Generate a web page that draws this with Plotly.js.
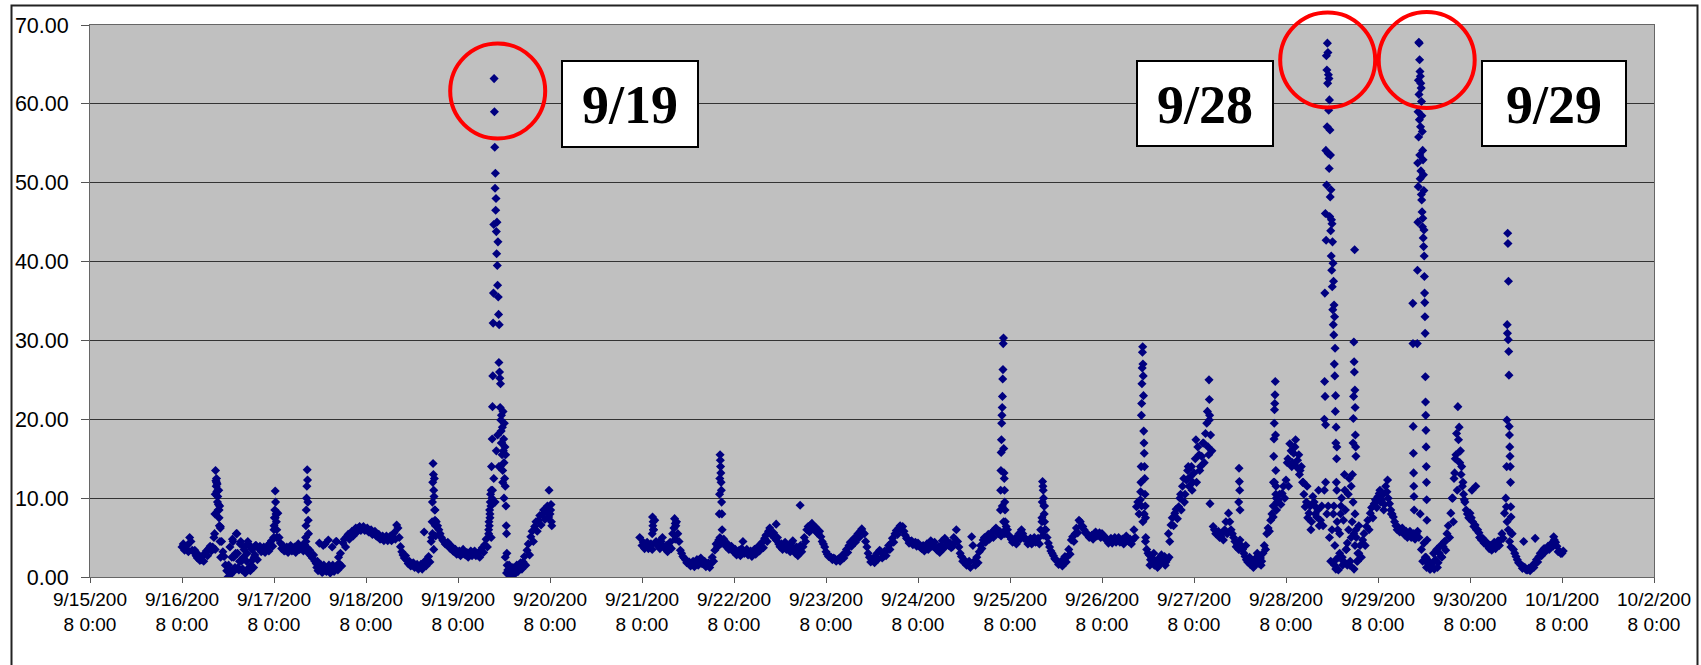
<!DOCTYPE html>
<html>
<head>
<meta charset="utf-8">
<script src="https://cdn.plot.ly/plotly-3.0.1.min.js"></script>
<style>
html,body{margin:0;padding:0;background:#fff;}
#chart{width:1701px;height:665px;}
</style>
</head>
<body>
<div id="chart"></div>
<script>
// ---------------- DATA (readings) ----------------
// Hourly readings (at :00), one array per day
const d0916 = [3.8, 3.6, 5.0, 3.2, 2.4, 2.2, 3.0, 3.6, 3.8, 12.0, 6.4, 2.6, 0.0, 2.5, 3.0, 2.0, 2.5, 3.0, 1.5, 2.8, 3.6, 3.4, 3.6, 4.3];
const d0917 = [6.0, 8.1, 3.6, 3.4, 3.6, 3.4, 3.85, 3.6, 4.1, 3.0, 2.4, 1.7, 0.9, 1.5, 0.8, 1.0, 1.3, 1.7, 4.3, 5.1, 5.5, 6.0, 6.2, 6.2];
const d0918 = [6.0, 5.7, 5.5, 5.1, 4.9, 4.9, 4.9, 5.1, 6.6, 3.85, 2.4, 1.7, 1.5, 1.3, 1.3, 1.7, 2.2, 4.5, 8.5, 6.0, 4.7, 4.1, 3.6, 3.2];
const d0919 = [3.0, 3.2, 2.8, 3.0, 3.0, 2.8, 3.4, 4.1, 6.0, 11.0, 16.0, 14.0, 10.0, 0.9, 0.7, 1.1, 1.3, 1.9, 3.4, 5.1, 6.4, 7.2, 7.9, 8.3];
const d0920 = [8.0];
const d0921 = [4.0, 4.0, 3.85, 6.0, 4.0, 4.5, 3.6, 4.0, 5.5, 7.0, 3.4, 2.4, 1.9, 1.7, 1.9, 2.2, 1.7, 1.5, 1.7, 3.4, 4.7, 4.5, 3.85, 3.6];
const d0922 = [3.2, 3.0, 3.6, 3.2, 3.0, 3.2, 3.6, 4.0, 4.9, 5.8, 5.3, 4.7, 3.85, 4.0, 3.6, 4.3, 3.0, 3.6, 3.85, 6.0, 6.6, 6.0, 5.5, 4.5];
const d0923 = [3.2, 2.6, 2.4, 2.2, 2.4, 3.0, 4.0, 4.5, 5.1, 5.8, 5.5, 3.0, 2.2, 2.4, 3.4, 2.6, 3.4, 4.3, 5.5, 6.2, 6.4, 4.9, 4.5, 4.3];
const d0924 = [4.3, 3.6, 3.85, 4.3, 4.0, 3.4, 4.0, 4.9, 4.0, 3.85, 6.0, 3.0, 2.2, 1.7, 5.1, 1.5, 3.2, 4.7, 5.1, 5.3, 6.0, 5.5, 9.0, 6.4];
const d0925 = [5.1, 4.5, 4.9, 6.0, 4.9, 4.5, 4.7, 4.5, 6.0, 9.0, 4.3, 3.0, 2.2, 1.7, 2.2, 2.6, 4.7, 5.5, 7.2, 6.4, 5.5, 5.1, 5.5, 5.3];
const d0926 = [5.5, 4.9, 4.5, 4.7, 4.7, 4.5, 4.9, 4.5, 4.7, 8.9, 9.8, 8.0, 3.0, 2.4, 1.7, 2.4, 2.2, 2.2, 6.6, 8.1, 8.9, 11.5, 12.3, 12.7];
const d0927 = [13.2, 16.5, 15.3, 18.2, 19.9, 6.4, 5.5, 5.1, 6.0, 8.1, 5.5, 3.85, 4.7, 3.0, 1.9, 1.7, 2.2, 1.7, 3.0, 5.5, 7.2, 12.0, 9.8, 10.6];
const d0928 = [12.3, 16.9, 15.7, 14.8, 14.0, 8.9, 8.1, 10.2, 7.6, 7.2, 11.0, 9.0, 6.0, 2.2, 5.5, 7.2, 4.3, 11.5, 8.0, 3.0, 4.7, 6.4, 8.1, 9.3];
const d0929 = [10.2, 9.8, 11.5, 9.3, 7.6, 6.0, 6.0, 5.3, 5.5, 5.1, 5.5, 8.0, 4.3, 1.7, 1.3, 2.2, 3.0, 3.85, 5.5, 8.1, 13.2, 17.4, 11.5, 8.5];
const d0930 = [8.1, 6.4, 6.0, 4.7, 4.3, 3.6, 3.85, 4.3, 4.7, 8.1, 6.0, 5.5, 2.6, 1.7, 1.3, 0.9, 1.1, 1.7, 2.6, 3.4, 3.6, 3.85, 4.7, 3.2];
const d1001 = [3.0];

// Readings at :20 (upper edge of the band) and :40 (lower edge), per day
const hi0916 = [4.2, 4.0, 4.5, 3.4, 2.8, 2.6, 3.3, 3.9, 5.0, 11.0, 4.5, 1.5, 1.0, 4.5, 5.5, 4.5, 3.8, 4.2, 3.5, 4.0, 3.9, 3.8, 4.0, 4.6];
const lo0916 = [3.4, 3.2, 3.4, 2.7, 2.1, 2.0, 2.7, 3.3, 3.5, 8.5, 3.2, 0.8, 0.3, 0.8, 1.2, 0.9, 0.7, 1.0, 1.2, 2.2, 3.2, 3.1, 3.3, 3.9];
const hi0917 = [7.5, 5.0, 4.0, 3.8, 4.0, 3.8, 4.2, 4.0, 4.5, 3.4, 2.8, 2.0, 1.5, 4.2, 1.5, 1.5, 4.5, 3.0, 4.8, 5.4, 5.8, 6.2, 6.4, 6.4];
const lo0917 = [5.0, 4.3, 3.3, 3.1, 3.3, 3.1, 3.5, 3.3, 3.7, 2.7, 2.0, 1.3, 0.6, 0.7, 0.5, 0.7, 0.9, 1.4, 3.8, 4.8, 5.2, 5.7, 5.9, 5.9];
const hi0918 = [6.2, 6.0, 5.8, 5.4, 5.2, 5.2, 5.2, 5.6, 6.2, 3.2, 2.7, 2.0, 1.8, 1.6, 1.6, 2.0, 2.6, 5.5, 7.0, 5.5, 4.5, 4.4, 3.9, 3.5];
const lo0918 = [5.7, 5.4, 5.2, 4.8, 4.6, 4.6, 4.6, 4.8, 5.0, 2.8, 2.1, 1.4, 1.2, 1.0, 1.0, 1.4, 1.9, 3.5, 6.5, 5.0, 4.2, 3.8, 3.3, 2.9];
const hi0919 = [3.3, 3.5, 3.1, 3.3, 3.3, 3.1, 3.7, 4.8, 7.5, 12.5, 18.0, 17.0, 2.5, 1.5, 1.2, 1.5, 1.8, 2.6, 4.2, 5.8, 7.0, 7.8, 8.5, 9.0];
const lo0919 = [2.7, 2.9, 2.5, 2.7, 2.7, 2.5, 3.1, 3.8, 5.0, 9.5, 14.0, 12.0, 0.5, 0.3, 0.3, 0.7, 1.0, 1.5, 2.8, 4.5, 5.8, 6.6, 7.3, 7.6];
const hi0921 = [4.4, 4.4, 4.2, 7.2, 4.4, 5.0, 4.0, 4.4, 6.2, 5.5, 3.0, 2.2, 1.9, 2.0, 2.2, 2.4, 2.0, 1.8, 2.5, 4.2, 5.0, 4.8, 4.2, 3.9];
const lo0921 = [3.6, 3.6, 3.5, 4.5, 3.6, 3.8, 3.2, 3.6, 4.8, 4.5, 2.6, 1.8, 1.4, 1.3, 1.5, 1.7, 1.3, 1.2, 2.0, 3.8, 4.3, 4.1, 3.5, 3.3];
const hi0922 = [3.5, 3.4, 4.5, 3.5, 3.3, 3.5, 3.9, 4.4, 5.3, 6.2, 5.6, 5.0, 4.2, 4.4, 4.0, 4.6, 3.8, 4.0, 5.0, 6.4, 6.8, 6.3, 5.8, 4.2];
const lo0922 = [2.8, 2.7, 3.0, 2.8, 2.6, 2.9, 3.3, 3.7, 4.5, 5.4, 4.9, 4.2, 3.5, 3.5, 3.2, 3.6, 2.7, 3.2, 4.5, 5.7, 6.2, 5.6, 5.1, 3.8];
const hi0923 = [2.9, 2.5, 2.3, 2.3, 2.8, 3.5, 4.4, 4.9, 5.5, 6.1, 4.5, 2.5, 2.4, 3.0, 3.2, 3.3, 4.0, 4.9, 5.9, 6.5, 5.8, 4.8, 4.6, 4.4];
const lo0923 = [2.6, 2.2, 2.0, 2.0, 2.4, 3.1, 3.9, 4.4, 5.0, 5.6, 3.8, 1.9, 1.8, 2.3, 2.4, 2.7, 3.5, 4.4, 5.4, 6.0, 5.3, 4.3, 4.1, 3.9];
const hi0924 = [4.0, 4.0, 4.2, 4.6, 4.4, 3.8, 4.6, 4.6, 4.3, 5.0, 4.5, 2.6, 2.0, 2.0, 4.0, 2.5, 4.0, 5.0, 5.4, 5.7, 6.2, 5.8, 7.0, 6.0];
const lo0924 = [3.7, 3.3, 3.5, 3.9, 3.6, 3.1, 3.6, 4.2, 3.7, 4.4, 3.8, 2.0, 1.5, 1.2, 2.0, 1.8, 3.6, 4.4, 4.8, 5.0, 5.6, 5.2, 5.5, 5.3];
const hi0925 = [4.8, 4.9, 5.5, 5.5, 4.7, 4.9, 5.0, 4.9, 7.0, 6.0, 3.8, 2.7, 2.0, 2.0, 2.6, 3.5, 5.1, 6.2, 7.0, 6.0, 5.4, 5.3, 5.7, 5.6];
const lo0925 = [4.4, 4.2, 4.8, 4.9, 4.2, 4.2, 4.4, 4.2, 5.3, 5.0, 3.3, 2.3, 1.6, 1.4, 1.9, 2.9, 4.5, 5.6, 6.5, 5.6, 5.0, 4.8, 5.2, 5.0];
const hi0926 = [5.3, 4.8, 4.9, 5.0, 5.0, 4.8, 5.2, 4.8, 6.0, 9.5, 9.0, 4.5, 2.8, 2.3, 2.0, 2.6, 2.6, 5.5, 7.5, 8.6, 10.0, 12.5, 13.5, 14.0];
const lo0926 = [4.9, 4.3, 4.3, 4.4, 4.4, 4.2, 4.6, 4.2, 5.0, 8.0, 7.0, 3.5, 2.2, 1.5, 1.4, 1.9, 1.9, 4.5, 6.5, 7.4, 8.5, 10.5, 11.5, 12.0];
const hi0927 = [15.0, 15.5, 17.0, 19.5, 18.0, 6.0, 5.8, 5.5, 7.0, 7.0, 5.0, 4.2, 4.0, 2.6, 2.2, 2.0, 2.5, 2.4, 4.0, 6.2, 8.0, 10.5, 10.5, 11.5];
const lo0927 = [12.0, 14.0, 14.5, 16.5, 16.0, 5.5, 5.0, 4.7, 5.5, 6.0, 4.5, 3.5, 3.5, 2.2, 1.6, 1.4, 1.8, 2.0, 3.5, 5.8, 7.6, 9.5, 9.2, 10.0];
const hi0928 = [14.5, 16.0, 16.5, 15.5, 12.0, 9.5, 9.0, 9.5, 8.5, 9.0, 12.0, 5.0, 8.0, 7.0, 9.0, 11.0, 6.0, 13.0, 5.0, 4.0, 5.5, 7.2, 8.8, 9.8];
const lo0928 = [11.5, 14.5, 14.0, 13.5, 10.5, 7.5, 7.0, 8.0, 6.5, 6.5, 8.0, 2.0, 1.5, 0.9, 2.5, 3.5, 1.5, 5.5, 2.0, 2.5, 4.0, 6.0, 7.5, 8.8];
const hi0929 = [10.6, 10.5, 10.8, 8.5, 7.0, 6.3, 6.2, 5.8, 5.8, 5.5, 5.8, 3.5, 2.5, 2.0, 1.8, 3.5, 4.0, 4.5, 6.5, 10.0, 15.5, 14.5, 10.5, 8.0];
const lo0929 = [9.5, 9.2, 10.0, 8.0, 6.5, 5.7, 5.6, 5.0, 5.0, 4.8, 5.0, 2.0, 1.2, 1.0, 1.0, 1.8, 2.5, 3.4, 5.0, 7.0, 11.0, 13.0, 9.5, 7.5];
const hi0930 = [7.5, 6.6, 5.6, 4.9, 4.4, 4.0, 4.4, 4.6, 5.5, 10.0, 4.5, 3.5, 2.2, 1.5, 1.2, 1.1, 1.5, 2.2, 3.0, 3.6, 3.9, 4.3, 4.4, 3.3];
const lo0930 = [7.0, 6.0, 5.0, 4.3, 3.9, 3.4, 3.6, 4.0, 4.9, 7.0, 3.8, 3.0, 1.8, 1.1, 0.9, 0.8, 1.2, 1.9, 2.7, 3.2, 3.5, 3.9, 3.9, 3.0];

const dayStarts = ['2008-09-16','2008-09-17','2008-09-18','2008-09-19','2008-09-20',
  '2008-09-21','2008-09-22','2008-09-23','2008-09-24','2008-09-25','2008-09-26',
  '2008-09-27','2008-09-28','2008-09-29','2008-09-30','2008-10-01'];
const dayValues = [d0916,d0917,d0918,d0919,d0920,d0921,d0922,d0923,d0924,d0925,d0926,d0927,d0928,d0929,d0930,d1001];
const hiValues  = [hi0916,hi0917,hi0918,hi0919,[],hi0921,hi0922,hi0923,hi0924,hi0925,hi0926,hi0927,hi0928,hi0929,hi0930,[]];
const loValues  = [lo0916,lo0917,lo0918,lo0919,[],lo0921,lo0922,lo0923,lo0924,lo0925,lo0926,lo0927,lo0928,lo0929,lo0930,[]];

// Extra short-interval readings around spikes and noisy periods
const spike0916  = [5.5, 8.0, 10.5, 13.5, 12.2, 11.5, 12.5, 10.8, 11.8, 9.5, 10.2, 8.5, 9.2, 11.0, 7.5, 6.5, 9.0, 4.5, 6.2, 2.5];
const noise0916  = [1.5, 3.8, 0.6, 4.8, 2.5, 1.2, 5.5, 3.0, 0.9, 4.2, 2.0, 1.0, 3.5, 0.5, 2.0, 4.5, 1.2, 0.8, 3.6, 2.2, 2.5, 4.0];
const spike0917a = [5.0, 6.5, 7.5, 8.5, 10.9, 9.5, 8.0, 7.0, 6.0, 5.0];
const spike0917b = [5.0, 6.5, 8.5, 10.0, 11.5, 13.6, 12.3, 9.5, 7.2, 5.5];
const noise0917  = [1.2, 0.8, 4.3, 1.2, 0.6, 4.0, 1.0, 0.9, 1.0, 4.7, 0.8, 0.8, 3.8, 1.2, 1.0, 4.5, 1.5, 2.5];
const spike0918  = [5.0, 7.0, 9.5, 12.0, 14.4, 13.0, 11.0, 10.2, 12.5, 8.5, 7.2, 6.5, 5.2];
const spike0919  = [5.5, 7.0, 6.5, 8.5, 8.0, 9.5, 10.5, 9.0, 11.0, 14.0, 10.0, 17.5, 21.6, 25.5, 32.2, 36.0,
  44.7, 63.2, 59.0, 54.5, 49.3, 51.2, 46.5, 48.0, 43.8, 41.0, 45.0, 39.5, 37.0, 42.5, 35.5, 33.3, 27.2, 32.0,
  26.0, 25.2, 21.5, 24.5, 19.9, 18.5, 20.5, 17.0, 15.5, 19.0, 13.5, 21.0, 16.0, 17.5, 14.5, 19.5, 12.5, 16.5,
  11.5, 15.5, 9.0, 6.5, 5.5, 3.0, 1.5, 0.5];
const tail0920   = [8.5, 9.2, 7.0, 6.5];
const spike0921a = [5.5, 7.6, 6.5, 7.0, 6.0];
const spike0921b = [7.4, 6.8, 6.5];
const spike0921c = [8.0, 10.5, 12.5, 15.5, 14.8, 14.0, 13.2, 12.0, 11.0, 9.5, 8.0, 6.0];
const spike0924  = [8.5, 11.0, 13.5, 15.8, 17.4, 19.5, 20.5, 21.5, 22.9, 25.1, 26.3, 29.6, 30.3, 16.3, 13.2, 12.5, 11.0, 9.5, 8.5, 7.0, 6.0];
const spike0925  = [7.5, 9.5, 12.1, 11.5, 11.0, 10.0, 9.0, 8.0, 7.0, 6.0];
const spike0926  = [10.8, 12.0, 14.0, 20.5, 22.0, 24.5, 26.5, 28.5, 29.2, 27.0, 25.5, 23.0, 18.5, 17.0, 15.7, 14.0, 12.5, 10.5, 9.0, 7.5, 5.0];
const noise0926a = [1.5, 3.0, 1.2, 2.8, 1.5, 2.5];
const noise0926b = [10.5, 9.5, 14.0, 11.0, 17.4, 13.5, 17.0, 21.0];
const spike0927a = [15.5, 25.0, 22.5, 20.5, 9.3];
const spike0927b = [9.5, 13.8, 12.1, 11.0, 8.5];
const noise0927  = [4.0, 2.5, 1.2, 3.0, 1.5];
const spike0927c = [9.0, 12.0, 15.3, 17.5, 19.5, 21.2, 22.0, 23.1, 24.8, 18.0, 13.5, 11.5, 10.0, 8.5];
const noise0928a = [15.0, 14.0, 17.4, 13.0, 12.0, 11.5, 6.0, 9.0, 11.0];
const spike0928  = [20.0, 24.8, 36.0, 22.9, 46.1, 19.3, 54.1, 42.7, 66.1, 49.7, 64.3, 57.1, 67.7, 62.6, 66.5, 53.7,
  63.7, 59.2, 63.2, 51.8, 60.5, 45.7, 56.7, 48.2, 53.5, 43.9, 49.1, 40.7, 45.3, 38.9, 44.8, 36.8, 42.5, 33.9,
  39.8, 32.0, 37.5, 30.7, 34.5, 27.0, 33.0, 25.5, 29.0, 21.0, 23.0, 17.0, 19.0, 12.0, 15.0, 16.5];
const noise0928b = [9.0, 1.0, 6.0, 3.0, 10.0, 2.0, 8.5, 1.5, 12.5, 5.0, 9.5, 4.0, 2.0, 6.5];
const noise0928c = [4.0, 11.0, 2.5, 8.0, 1.5, 13.0, 3.5, 10.5, 2.0, 7.0, 1.0, 6.0, 3.0];
const spike0928b = [17.0, 20.1, 22.9, 29.8, 27.3, 26.0, 41.5, 23.7, 21.5, 18.0, 16.5, 15.3];
const noise0929a = [11.0, 8.5, 12.3, 8.0];
const spike0929a = [34.7, 29.6, 19.1, 15.7, 13.2, 11.5, 10.2, 8.5];
const spike0929b = [29.6, 38.9, 52.5, 45.0, 59.0, 49.5, 63.0, 55.8, 67.8, 61.2, 67.7, 58.0, 65.6, 53.5, 64.1, 50.5,
  63.5, 57.1, 62.6, 51.5, 62.0, 48.5, 60.3, 47.8, 58.5, 46.3, 56.5, 44.4, 54.1, 45.5, 52.9, 43.0, 51.0, 41.9,
  49.0, 44.0, 40.7, 38.1, 36.0, 34.8, 33.0, 30.9, 25.4, 22.2, 20.5, 18.6, 16.5, 14.0, 12.0, 9.8, 7.2, 4.7];
const noise0929b = [2.5, 1.0, 3.0, 1.2, 2.6, 4.5];
const noise0929c = [10.0, 12.5, 15.0, 18.2, 21.6, 19.0, 16.0, 14.0, 12.0, 9.8];
const noise0930a = [11.0, 11.5, 5.0];
const spike0930  = [8.9, 14.0, 19.9, 32.0, 30.9, 43.6, 42.3, 30.1, 37.5, 28.6, 25.6, 19.1, 18.0, 16.5, 15.3, 14.0, 12.0, 8.9, 7.6, 5.5];

// start time and reading interval (minutes) of each extra block
const extraBlocks = [
  ['2008-09-16 08:30', 5, spike0916], ['2008-09-16 12:10', 20, noise0916],
  ['2008-09-16 23:55', 6, spike0917a], ['2008-09-17 08:15', 5, spike0917b],
  ['2008-09-17 11:10', 20, noise0917], ['2008-09-18 17:10', 5, spike0918],
  ['2008-09-19 08:00', 5, spike0919], ['2008-09-20 00:10', 6, tail0920],
  ['2008-09-21 02:40', 5, spike0921a], ['2008-09-21 08:30', 10, spike0921b],
  ['2008-09-21 20:10', 4, spike0921c], ['2008-09-24 21:30', 4, spike0924],
  ['2008-09-25 08:20', 5, spike0925], ['2008-09-26 10:05', 4, spike0926],
  ['2008-09-26 12:30', 60, noise0926a], ['2008-09-26 20:30', 60, noise0926b],
  ['2008-09-27 03:50', 5, spike0927a], ['2008-09-27 11:40', 5, spike0927b],
  ['2008-09-27 13:30', 60, noise0927], ['2008-09-27 20:40', 4, spike0927c],
  ['2008-09-28 00:30', 60, noise0928a], ['2008-09-28 10:00', 4, spike0928],
  ['2008-09-28 12:30', 30, noise0928b], ['2008-09-28 12:45', 30, noise0928c],
  ['2008-09-28 17:30', 4, spike0928b],
  ['2008-09-29 00:30', 60, noise0929a], ['2008-09-29 09:05', 3, spike0929a],
  ['2008-09-29 10:15', 3, spike0929b], ['2008-09-29 12:30', 60, noise0929b],
  ['2008-09-29 19:30', 20, noise0929c], ['2008-09-30 00:30', 60, noise0930a],
  ['2008-09-30 09:30', 4, spike0930]
];
// single isolated readings
const isoTimes  = ['2008-09-20 23:25', '2008-09-22 11:00', '2008-09-22 17:15', '2008-09-19 23:45', '2008-09-18 15:10', '2008-09-30 14:00', '2008-09-30 17:00', '2008-09-30 21:50', '2008-10-01 00:20'];
const isoValues = [5.0, 6.7, 9.1, 11.0, 5.7, 4.5, 4.9, 5.1, 3.3];

// axis ticks
const tickDates = ['2008-09-15','2008-09-16','2008-09-17','2008-09-18','2008-09-19','2008-09-20',
  '2008-09-21','2008-09-22','2008-09-23','2008-09-24','2008-09-25','2008-09-26','2008-09-27',
  '2008-09-28','2008-09-29','2008-09-30','2008-10-01','2008-10-02'];
const tickLabels = ['9/15/200<br>8 0:00','9/16/200<br>8 0:00','9/17/200<br>8 0:00','9/18/200<br>8 0:00',
  '9/19/200<br>8 0:00','9/20/200<br>8 0:00','9/21/200<br>8 0:00','9/22/200<br>8 0:00','9/23/200<br>8 0:00',
  '9/24/200<br>8 0:00','9/25/200<br>8 0:00','9/26/200<br>8 0:00','9/27/200<br>8 0:00','9/28/200<br>8 0:00',
  '9/29/200<br>8 0:00','9/30/200<br>8 0:00','10/1/200<br>8 0:00','10/2/200<br>8 0:00'];
const markLabels = ['9/19', '9/28', '9/29'];

// ---------------- BUILD ----------------
function toMs(s){ return Date.parse(s.replace(' ', 'T') + (s.length > 10 ? ':00Z' : 'T00:00:00Z')); }
function fmt(ms){ return new Date(ms).toISOString().slice(0,16).replace('T',' '); }
const xs = [], ys = [];
function addBlock(start, stepMin, vals, offsetMin){
  const t0 = toMs(start) + (offsetMin || 0) * 60000;
  vals.forEach((v,i) => { xs.push(fmt(t0 + i*stepMin*60000)); ys.push(v); });
}
dayStarts.forEach((d,i) => {
  addBlock(d, 60, dayValues[i], 0);
  addBlock(d, 60, hiValues[i], 20);
  addBlock(d, 60, loValues[i], 40);
});
extraBlocks.forEach(b => addBlock(b[0], b[1], b[2], 0));
isoTimes.forEach((t,i) => { xs.push(t); ys.push(isoValues[i]); });

// plot-area geometry (pixels) for decorations
const W = 1701, H = 665, L = 90, R = 1654, T = 25, B = 577;
const px = x => (x - L) / (R - L);
const py = y => (B - y) / (B - T);

const red = '#FF0000';
const circles = [[497.7, 91, 47.5], [1327.7, 60, 47.5], [1426.7, 60, 48]];
const boxes = [[562, 698, 61, 147], [1137, 1273, 61, 146], [1482, 1626, 61, 146]];

const shapes = [
  {type:'rect', xref:'paper', yref:'paper', x0:px(11.5), x1:px(1697.5), y0:py(672), y1:py(5.5),
   line:{color:'#222', width:2}, fillcolor:'rgba(0,0,0,0)', layer:'below'}
];
circles.forEach(c => shapes.push({type:'circle', xref:'paper', yref:'paper',
  x0:px(c[0]-c[2]), x1:px(c[0]+c[2]), y0:py(c[1]+c[2]), y1:py(c[1]-c[2]),
  line:{color:red, width:4}, layer:'above'}));
boxes.forEach(b => shapes.push({type:'rect', xref:'paper', yref:'paper',
  x0:px(b[0]), x1:px(b[1]), y0:py(b[3]), y1:py(b[2]),
  line:{color:'#000', width:2}, fillcolor:'#FFFFFF', layer:'above'}));
const annotations = boxes.map((b,i) => ({xref:'paper', yref:'paper',
  x:px((b[0]+b[1])/2), y:py((b[2]+b[3])/2 + 1), xanchor:'center', yanchor:'middle',
  text:'<b>' + markLabels[i] + '</b>', showarrow:false,
  font:{family:'Liberation Serif, Times New Roman, serif', size:54, color:'#000'}}));

const trace = {type:'scatter', mode:'markers', x:xs, y:ys,
  marker:{symbol:'diamond', size:7, color:'#000080', line:{width:0}}, hoverinfo:'skip'};

const layout = {
  width:W, height:H, margin:{l:L, r:W-R, t:T, b:H-B},
  paper_bgcolor:'#FFFFFF', plot_bgcolor:'#C0C0C0',
  font:{family:'Liberation Sans, Arial, sans-serif', color:'#000'},
  showlegend:false,
  xaxis:{type:'date', range:['2008-09-15 00:00','2008-10-02 00:00'], tickmode:'array',
    tickvals:tickDates, ticktext:tickLabels, ticks:'outside', ticklen:5, tickcolor:'#555',
    showgrid:false, zeroline:false, showline:true, linecolor:'#666', linewidth:1, mirror:true,
    tickfont:{size:19}, fixedrange:true},
  yaxis:{range:[0,70], dtick:10, tickformat:'.2f', ticks:'outside', ticklen:8, tickcolor:'#555',
    showgrid:true, gridcolor:'#333', gridwidth:1, zeroline:false, showline:true, linecolor:'#666',
    linewidth:1, mirror:true, tickfont:{size:21.5}, ticklabelstandoff:8, fixedrange:true},
  shapes:shapes, annotations:annotations
};
Plotly.newPlot('chart', [trace], layout, {staticPlot:true, displayModeBar:false});
</script>
</body>
</html>
